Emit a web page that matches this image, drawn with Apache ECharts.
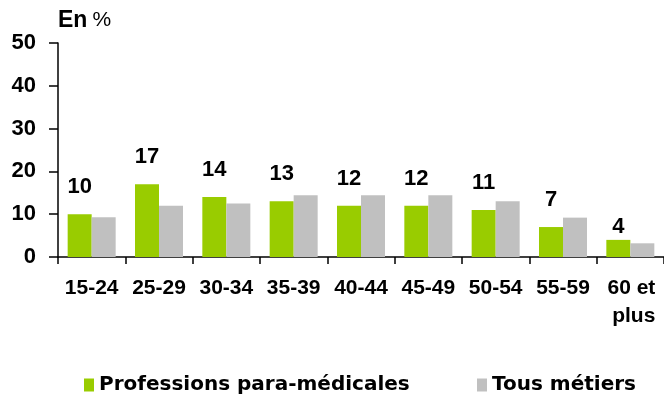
<!DOCTYPE html>
<html>
<head>
<meta charset="utf-8">
<script src="https://cdn.jsdelivr.net/npm/echarts@6/dist/echarts.min.js"></script>
<style>
  html, body { margin: 0; padding: 0; background: #fff; }
  #chart { width: 664px; height: 399px; }
</style>
</head>
<body>
<div id="chart"></div>
<script>
// Age groups on the category axis
const categories = ['15-24', '25-29', '30-34', '35-39', '40-44', '45-49', '50-54', '55-59', '60 et\nplus'];
// Share of each age group, in %
const paramedical = [10, 17, 14, 13, 12, 12, 11, 7, 4];
const allJobs = [9.3, 12.0, 12.5, 14.4, 14.4, 14.4, 13.0, 9.2, 3.2];
const seriesNames = ['Professions para-médicales', 'Tous métiers'];
const yTicks = { min: 0, max: 50, step: 10 };

const chart = echarts.init(document.getElementById('chart'), null, { renderer: 'canvas' });

const sansBold = { fontFamily: 'Liberation Sans, Arial, sans-serif', fontWeight: 'bold', color: '#000' };
const legendText = { fontFamily: 'DejaVu Sans, sans-serif', fontWeight: 'bold', fontSize: 20, color: '#000' };

chart.setOption({
  animation: false,
  backgroundColor: '#fff',
  grid: { left: 58, right: 0, top: 43, bottom: 142, containLabel: false },
  title: {
    text: '{b|En} {p|%}',
    left: 58, top: 9, padding: 0,
    textStyle: {
      rich: {
        b: { fontFamily: 'Liberation Sans, Arial, sans-serif', fontWeight: 'bold', fontSize: 23, color: '#000' },
        p: { fontFamily: 'Liberation Sans, Arial, sans-serif', fontWeight: 'normal', fontSize: 21, color: '#000' }
      }
    }
  },
  legend: [
    {
      data: [seriesNames[0]], left: 84, top: 375, padding: 0,
      icon: 'rect', itemWidth: 10, itemHeight: 13, itemGap: 0,
      textStyle: legendText
    },
    {
      data: [seriesNames[1]], left: 477, top: 375, padding: 0,
      icon: 'rect', itemWidth: 10, itemHeight: 13, itemGap: 0,
      textStyle: legendText
    }
  ],
  xAxis: {
    type: 'category',
    data: categories,
    boundaryGap: true,
    axisLine: { show: true, lineStyle: { color: '#000', width: 1.5 } },
    axisTick: { show: true, alignWithLabel: false, length: 7, lineStyle: { color: '#000', width: 1.5 } },
    axisLabel: Object.assign({}, sansBold, {
      fontSize: 21,
      margin: 17,
      interval: 0,
      lineHeight: 28,
      formatter: function (v) {
        if (v.indexOf('\n') < 0) return v;
        return v.split('\n').map(function (s) { return '{r|' + s + '}'; }).join('\n');
      },
      rich: {
        r: { width: 50, align: 'right', fontFamily: 'Liberation Sans, Arial, sans-serif', fontWeight: 'bold', fontSize: 21, lineHeight: 28, color: '#000' }
      }
    }),
    splitLine: { show: false }
  },
  yAxis: {
    type: 'value',
    min: yTicks.min, max: yTicks.max, interval: yTicks.step,
    axisLine: { show: true, lineStyle: { color: '#000', width: 1.5 } },
    axisTick: { show: true, inside: false, length: 9, lineStyle: { color: '#000', width: 1.5 } },
    axisLabel: Object.assign({}, sansBold, { fontSize: 22, margin: 22 }),
    splitLine: { show: false }
  },
  series: [
    {
      name: seriesNames[0],
      type: 'bar',
      data: paramedical.map(function (v, i) {
        return i === paramedical.length - 1
          ? { value: v, label: { distance: 2 } }
          : v;
      }),
      barWidth: 24,
      barGap: '0%',
      itemStyle: { color: '#99CC00' },
      label: Object.assign({}, sansBold, { show: true, position: 'top', distance: 16, fontSize: 22 })
    },
    {
      name: seriesNames[1],
      type: 'bar',
      data: allJobs,
      barWidth: 24,
      barGap: '0%',
      itemStyle: { color: '#C0C0C0' }
    }
  ]
});
</script>
</body>
</html>
